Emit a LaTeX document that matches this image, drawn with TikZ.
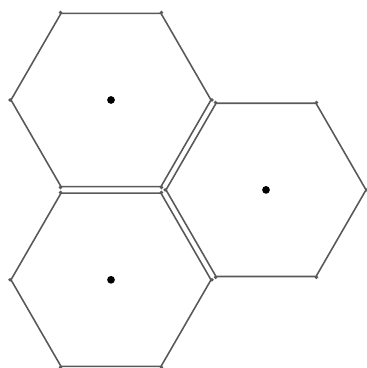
\documentclass[tikz,border=0pt]{standalone}
\usetikzlibrary{positioning,calc,shapes.geometric}

\begin{document}
\begin{tikzpicture}[node distance=0.05cm,
                    cell/.style={regular polygon, regular polygon sides=6,
                                 minimum size=2cm, inner sep=0pt, draw=black!65, line width=0.45pt},
                    hub/.style={circle, fill=black, inner sep=0pt, minimum size=2.2pt}]
  \useasboundingbox (0,0) rectangle (3.66,3.68);
  \node[cell] (top) at (1.11,2.68) {};
  \node[cell] (bot) [below=of top] {};
  \node[cell] (side) at ($(top.center)!0.5!(bot.center)+(1.55,0)$) {};
  % centre dots
  \node[hub] (topc)  at (top.center)  {};
  \node[hub] (botc)  at (bot.center)  {};
  \node[hub] (sidec) at (side.center) {};
  % corner dots
  \foreach \h in {top,bot,side}
    \foreach \k in {1,...,6}
      \fill[black!65] (\h.corner \k) circle (0.55pt);
\end{tikzpicture}
\end{document}
